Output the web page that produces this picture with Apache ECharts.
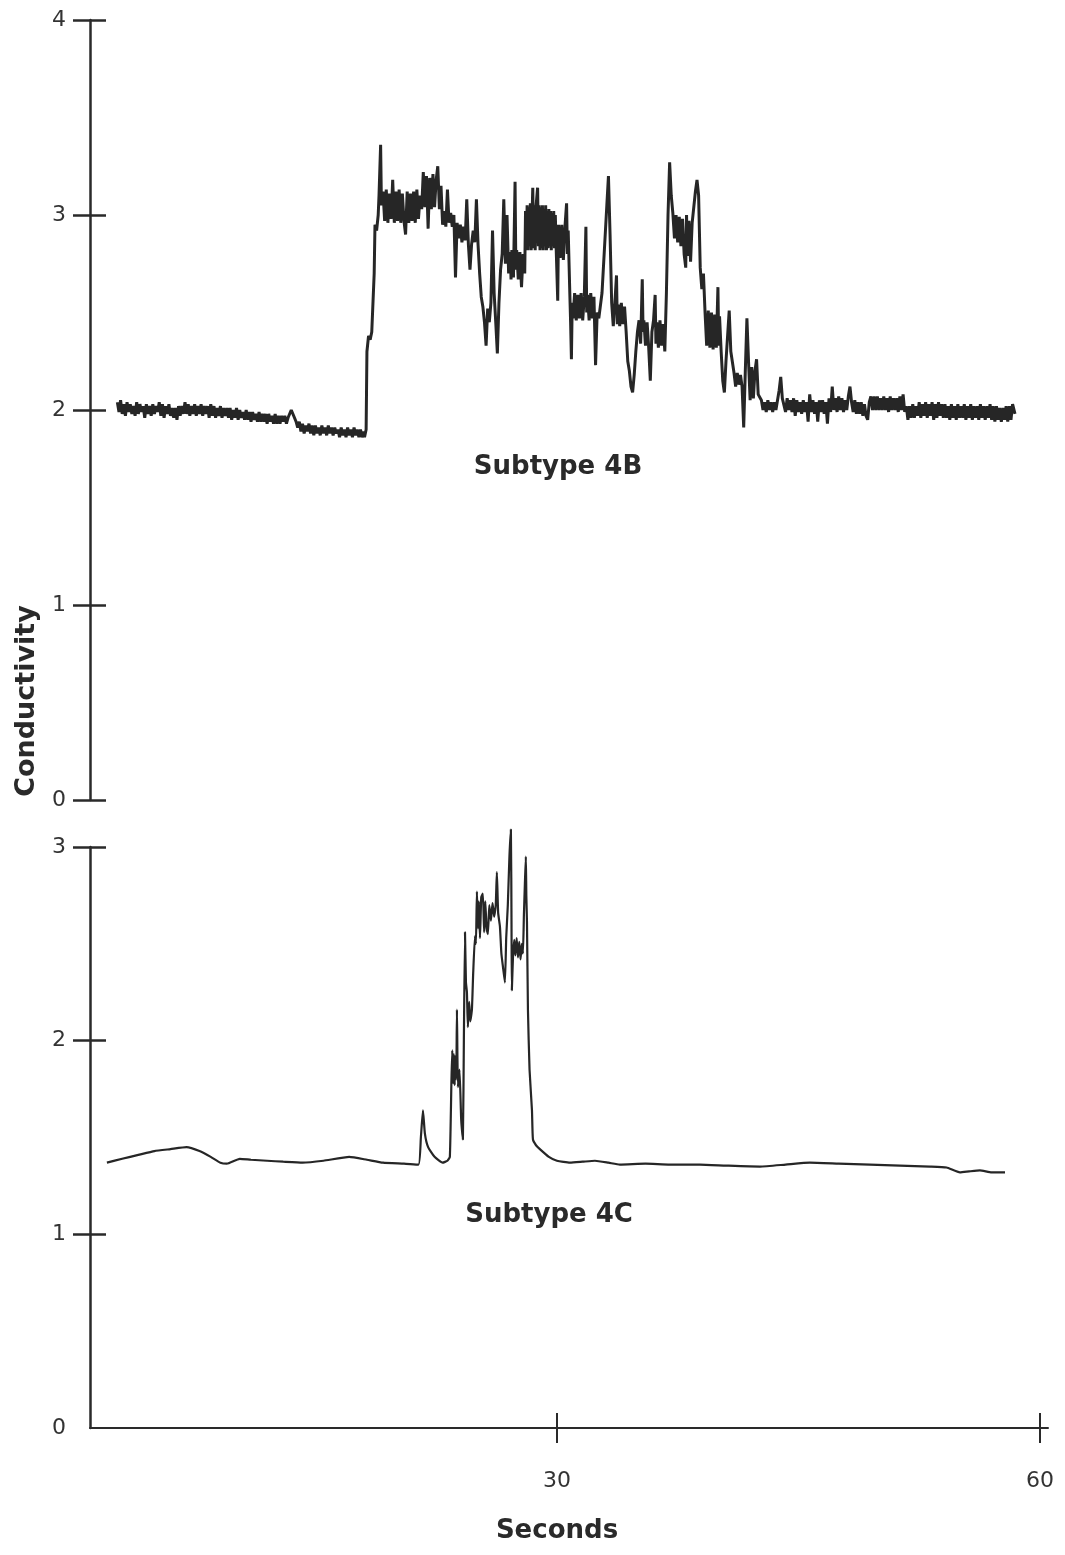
<!DOCTYPE html>
<html>
<head>
<meta charset="utf-8">
<script src="https://cdn.jsdelivr.net/npm/echarts@6/dist/echarts.min.js"></script>
<style>
html,body{margin:0;padding:0;background:#fff;}
#chart{width:1065px;height:1555px;}
</style>
</head>
<body>
<div id="chart"></div>
<script>
// ---- Data (seconds, conductivity) ----
const trace4B = [
[2.7,2.04],[2.8,1.99],[2.9,2.05],[3.0,1.98],[3.1,2.03],[3.2,1.97],[3.3,2.04],[3.4,1.99],[3.5,2.03],[3.6,1.98],
[3.7,2.02],[3.8,1.97],[3.9,2.04],[4.0,1.98],[4.1,2.03],[4.2,1.99],[4.3,2.02],[4.4,1.96],[4.5,2.03],[4.6,1.98],
[4.7,2.02],[4.8,1.97],[4.9,2.03],[5.0,1.98],[5.1,2.02],[5.2,1.99],[5.3,2.04],[5.4,1.97],[5.5,2.03],[5.6,1.96],
[5.7,2.02],[5.8,1.98],[5.9,2.03],[6.0,1.97],[6.1,2.01],[6.2,1.96],[6.3,2.01],[6.4,1.95],[6.5,2.02],[6.6,1.97],
[6.7,2.02],[6.8,1.98],[6.9,2.04],[7.0,1.98],[7.1,2.03],[7.2,1.97],[7.3,2.02],[7.4,1.98],[7.5,2.03],[7.6,1.97],
[7.7,2.02],[7.8,1.98],[7.9,2.03],[8.0,1.97],[8.1,2.02],[8.2,1.98],[8.3,2.02],[8.4,1.96],[8.5,2.03],[8.6,1.97],
[8.7,2.02],[8.8,1.96],[8.9,2.01],[9.0,1.97],[9.1,2.02],[9.2,1.96],[9.3,2.01],[9.4,1.97],[9.5,2.01],[9.6,1.96],
[9.7,2.01],[9.8,1.95],[9.9,2.00],[10.0,1.96],[10.1,2.01],[10.2,1.95],[10.3,2.00],[10.4,1.96],[10.5,1.99],[10.6,1.95],
[10.7,2.00],[10.8,1.95],[10.9,1.99],[11.0,1.94],[11.1,1.99],[11.2,1.95],[11.3,1.98],[11.4,1.94],[11.5,1.99],[11.6,1.94],
[11.7,1.98],[11.8,1.94],[11.9,1.98],[12.0,1.93],[12.1,1.98],[12.2,1.94],[12.3,1.97],[12.4,1.93],[12.5,1.98],[12.6,1.93],
[12.7,1.97],[12.8,1.93],[12.9,1.97],[13.0,1.94],[13.1,1.97],[13.2,1.93],[13.3,1.96],
[13.4,1.95],[13.5,2.00],[13.6,1.99],[13.7,1.96],[13.8,1.94],[13.9,1.91],[14.0,1.94],
[14.1,1.89],[14.2,1.93],[14.3,1.88],[14.4,1.92],[14.5,1.89],[14.6,1.93],[14.7,1.88],[14.8,1.92],[14.9,1.87],[15.0,1.92],
[15.1,1.88],[15.2,1.91],[15.3,1.87],[15.4,1.92],[15.5,1.88],[15.6,1.91],[15.7,1.87],[15.8,1.92],[15.9,1.88],[16.0,1.91],
[16.1,1.87],[16.2,1.91],[16.3,1.88],[16.4,1.90],[16.5,1.86],[16.6,1.91],[16.7,1.87],[16.8,1.90],[16.9,1.86],[17.0,1.91],
[17.1,1.87],[17.2,1.90],[17.3,1.86],[17.4,1.91],[17.5,1.87],[17.6,1.90],[17.7,1.86],[17.8,1.90],[17.9,1.86],[18.0,1.89],[18.05,1.86],
[18.15,1.90],[18.2,2.30],[18.3,2.38],[18.4,2.36],[18.5,2.40],[18.6,2.39],[18.65,2.70],[18.7,2.95],[18.8,2.92],[18.9,3.00],
[18.95,3.10],[19.05,3.36],[19.1,3.05],
[19.2,3.12],[19.3,2.97],[19.4,3.13],[19.5,2.96],[19.6,3.11],[19.7,2.98],[19.8,3.18],[19.9,2.96],[20.0,3.12],[20.1,2.97],
[20.2,3.13],[20.3,2.96],[20.4,3.11],[20.5,2.97],[20.6,2.90],[20.7,3.12],[20.8,2.96],[20.9,3.11],[21.0,2.97],[21.1,3.12],
[21.2,2.96],[21.3,3.13],[21.4,2.98],[21.5,3.10],
[21.6,3.03],[21.7,3.22],[21.8,3.04],[21.9,3.20],[22.0,2.93],[22.1,3.19],[22.2,3.03],[22.3,3.21],[22.4,3.04],[22.5,3.18],
[22.6,3.25],[22.7,3.03],[22.8,3.15],
[22.9,2.95],[23.0,3.02],[23.1,2.94],[23.2,3.13],[23.3,2.96],[23.4,3.01],[23.5,2.94],[23.6,3.00],[23.7,2.68],[23.8,2.96],
[23.9,2.88],[24.0,2.95],[24.1,2.86],[24.2,2.94],[24.3,2.87],[24.4,3.08],[24.5,2.85],[24.6,2.72],[24.7,2.85],[24.8,2.92],
[24.9,2.86],[25.0,3.08],[25.1,2.85],[25.2,2.70],[25.3,2.58],[25.4,2.53],[25.5,2.45],[25.6,2.33],[25.7,2.52],[25.8,2.45],
[25.9,2.55],[26.0,2.92],[26.1,2.60],[26.2,2.45],[26.3,2.29],[26.4,2.55],[26.5,2.72],[26.6,2.80],[26.7,3.08],[26.8,2.75],
[26.9,3.00],
[27.0,2.70],[27.1,2.81],[27.15,2.67],[27.2,2.82],[27.3,2.68],[27.4,3.17],[27.45,2.72],[27.5,2.82],[27.6,2.67],[27.7,2.81],
[27.8,2.63],[27.9,2.80],[28.0,2.70],
[28.05,3.02],[28.1,2.83],[28.15,3.05],[28.2,2.82],[28.25,3.04],[28.3,2.84],[28.35,3.06],[28.4,2.82],[28.5,3.14],[28.55,2.83],
[28.6,3.05],[28.65,2.82],[28.7,3.04],[28.8,3.14],[28.85,2.84],[28.9,3.05],[28.95,2.82],[29.0,3.04],[29.05,2.83],[29.1,3.05],
[29.15,2.82],[29.2,3.03],[29.25,2.84],[29.3,3.05],[29.35,2.82],[29.4,3.02],[29.45,2.83],[29.5,3.03],[29.55,2.84],[29.6,3.02],
[29.65,2.82],[29.7,3.01],[29.75,2.84],[29.8,3.02],[29.85,2.83],[29.9,3.00],[29.95,2.84],
[30.05,2.56],[30.1,2.95],[30.2,2.78],[30.3,2.95],[30.4,2.77],[30.5,2.94],[30.6,3.06],[30.65,2.80],[30.7,2.92],[30.8,2.60],
[30.85,2.45],[30.9,2.26],[30.95,2.55],[31.0,2.47],[31.1,2.60],[31.2,2.46],[31.3,2.59],[31.4,2.47],[31.5,2.60],[31.6,2.46],
[31.7,2.58],[31.8,2.94],[31.85,2.50],[31.9,2.59],[32.0,2.46],[32.1,2.60],[32.2,2.47],[32.3,2.58],[32.4,2.23],[32.5,2.50],
[32.6,2.47],[32.8,2.60],[33.0,2.90],[33.1,3.05],[33.2,3.20],[33.3,2.90],
[33.4,2.55],[33.5,2.43],[33.6,2.55],[33.7,2.69],[33.75,2.44],[33.8,2.54],[33.9,2.43],[34.0,2.55],[34.1,2.44],[34.2,2.53],
[34.3,2.40],[34.4,2.25],[34.5,2.20],[34.6,2.12],[34.7,2.09],[34.8,2.18],[34.9,2.30],[35.0,2.40],
[35.1,2.46],[35.2,2.34],[35.3,2.67],[35.35,2.40],[35.4,2.46],[35.5,2.33],[35.6,2.45],[35.7,2.32],[35.8,2.15],[35.9,2.40],
[36.0,2.46],[36.1,2.59],[36.15,2.34],[36.2,2.45],[36.3,2.32],[36.4,2.46],[36.5,2.33],[36.6,2.44],[36.7,2.30],
[36.8,2.60],[36.9,3.00],[37.0,3.27],[37.1,3.10],
[37.2,3.01],[37.3,2.88],[37.4,3.00],[37.5,2.86],[37.6,2.99],[37.7,2.84],[37.8,2.98],[37.9,2.80],[38.0,2.73],[38.05,3.00],
[38.1,2.79],[38.2,2.97],[38.3,2.76],[38.4,2.96],
[38.6,3.12],[38.7,3.18],[38.8,3.10],[38.9,2.73],[39.0,2.62],[39.1,2.70],
[39.2,2.50],[39.3,2.33],[39.4,2.51],[39.5,2.32],[39.6,2.50],[39.7,2.31],[39.8,2.49],[39.9,2.32],[40.0,2.63],[40.05,2.33],
[40.1,2.48],[40.2,2.30],[40.3,2.15],[40.4,2.09],[40.5,2.25],[40.7,2.51],[40.8,2.30],
[41.0,2.19],[41.1,2.12],[41.2,2.19],[41.3,2.13],[41.4,2.18],[41.5,2.12],[41.6,1.91],[41.7,2.20],[41.8,2.47],[41.9,2.25],
[42.0,2.05],[42.1,2.22],[42.2,2.06],[42.3,2.20],[42.4,2.26],[42.5,2.08],
[42.7,2.05],[42.8,2.00],[42.9,2.04],[43.0,1.99],[43.1,2.05],[43.2,2.00],[43.3,2.04],[43.4,1.99],[43.5,2.04],[43.6,2.00],
[43.7,2.05],[43.8,2.10],[43.9,2.17],[44.0,2.06],
[44.1,2.05],[44.2,1.99],[44.3,2.06],[44.4,2.00],[44.5,2.05],[44.6,1.99],[44.7,2.06],[44.8,1.97],[44.9,2.05],[45.0,1.99],
[45.1,2.04],[45.2,1.98],[45.3,2.05],[45.4,1.99],[45.5,2.04],[45.6,1.94],[45.7,2.08],[45.8,1.99],[45.9,2.05],[46.0,1.98],
[46.1,2.04],[46.2,1.94],[46.3,2.05],[46.4,1.99],[46.5,2.05],[46.6,1.98],[46.7,2.04],[46.8,1.93],[46.9,2.06],[47.0,1.99],
[47.1,2.12],[47.2,2.00],[47.3,2.06],[47.4,1.99],[47.5,2.07],[47.6,2.00],[47.7,2.06],[47.8,1.99],[47.9,2.05],[48.0,2.00],
[48.1,2.07],[48.2,2.12],[48.3,2.04],[48.4,1.99],[48.5,2.05],[48.6,1.98],[48.7,2.04],[48.8,1.98],[48.9,2.04],[49.0,1.97],
[49.1,2.03],[49.2,1.97],[49.3,1.95],[49.4,2.04],[49.5,2.07],[49.6,2.00],[49.7,2.07],[49.8,2.00],[49.9,2.07],[50.0,2.00],
[50.1,2.06],[50.2,2.00],[50.3,2.07],[50.4,2.00],[50.5,2.06],[50.6,1.99],[50.7,2.07],[50.8,2.00],[50.9,2.06],[51.0,2.00],
[51.1,2.06],[51.2,1.99],[51.3,2.07],[51.4,2.00],[51.5,2.08],[51.6,1.99],[51.7,2.02],[51.8,1.95],[51.9,2.02],[52.0,1.96],
[52.1,2.03],[52.2,1.96],[52.3,2.02],[52.4,1.97],[52.5,2.04],[52.6,1.96],[52.7,2.03],[52.8,1.97],[52.9,2.04],[53.0,1.96],
[53.1,2.03],[53.2,1.97],[53.3,2.04],[53.4,1.95],[53.5,2.03],[53.6,1.96],[53.7,2.04],[53.8,1.97],[53.9,2.03],[54.0,1.96],
[54.1,2.03],[54.2,1.96],[54.3,2.02],[54.4,1.95],[54.5,2.03],[54.6,1.96],[54.7,2.02],[54.8,1.95],[54.9,2.03],[55.0,1.96],
[55.1,2.02],[55.2,1.96],[55.3,2.03],[55.4,1.95],[55.5,2.02],[55.6,1.96],[55.7,2.03],[55.8,1.95],[55.9,2.02],[56.0,1.96],
[56.1,2.02],[56.2,1.95],[56.3,2.03],[56.4,1.96],[56.5,2.02],[56.6,1.95],[56.7,2.02],[56.8,1.96],[56.9,2.03],[57.0,1.95],
[57.1,2.02],[57.2,1.94],[57.3,2.02],[57.4,1.95],[57.5,2.01],[57.6,1.94],[57.7,2.01],[57.8,1.95],[57.9,2.02],[58.0,1.94],
[58.1,2.02],[58.2,1.95],[58.3,2.03],[58.45,1.98]
];

const trace4C = [
[2.05,1.37],[3.0,1.39],[4.0,1.41],[5.0,1.43],[6.0,1.44],[7.0,1.45],[7.8,1.43],[8.5,1.40],[9.1,1.37],[9.5,1.365],
[10.3,1.39],[11.0,1.385],[12.0,1.38],[13.0,1.375],[14.2,1.37],[15.5,1.38],[17.1,1.40],[18.2,1.385],[19.2,1.37],[20.5,1.365],
[21.4,1.36],[21.55,1.50],[21.68,1.64],[21.8,1.52],[22.0,1.45],[22.4,1.40],[22.9,1.37],[23.2,1.38],[23.35,1.40],[23.45,1.80],
[23.5,1.95],[23.55,1.78],[23.6,1.93],[23.65,1.77],[23.7,1.92],[23.75,1.80],[23.79,2.16],[23.85,1.76],[23.95,1.85],[24.05,1.60],
[24.1,1.54],[24.16,1.49],[24.22,2.00],[24.29,2.56],[24.35,2.30],[24.41,2.25],[24.47,2.07],[24.55,2.20],[24.62,2.10],[24.72,2.16],
[24.8,2.35],[24.91,2.54],[24.97,2.50],[25.03,2.77],[25.1,2.58],[25.15,2.72],[25.22,2.53],[25.3,2.74],[25.4,2.76],[25.48,2.56],
[25.55,2.72],[25.63,2.58],[25.71,2.55],[25.8,2.70],[25.9,2.62],[26.0,2.71],[26.1,2.64],[26.2,2.70],[26.27,2.87],[26.35,2.66],
[26.46,2.59],[26.55,2.45],[26.65,2.38],[26.77,2.30],[26.85,2.53],[26.95,2.70],[27.05,2.95],[27.14,3.09],[27.18,2.60],[27.2,2.26],
[27.27,2.43],[27.35,2.52],[27.42,2.44],[27.5,2.53],[27.58,2.43],[27.66,2.51],[27.74,2.42],[27.82,2.50],[27.89,2.45],[27.95,2.65],
[28.01,2.81],[28.07,2.95],[28.1,2.75],[28.14,2.61],[28.2,2.16],[28.3,1.85],[28.45,1.64],[28.51,1.49],[28.7,1.46],[28.94,1.44],
[29.5,1.40],[30.0,1.38],[30.81,1.37],[31.6,1.375],[32.36,1.38],[33.2,1.37],[33.91,1.36],[35.5,1.365],[37.0,1.36],[38.88,1.36],
[40.5,1.355],[42.61,1.35],[44.2,1.36],[45.71,1.37],[47.5,1.365],[49.44,1.36],[51.3,1.355],[53.17,1.35],[54.2,1.345],[55.03,1.32],
[55.6,1.325],[56.27,1.33],[57.0,1.32],[57.83,1.32]
];

const xTickValues = [30, 60];
const yTopTicks = [0, 1, 2, 3, 4];
const yBottomTicks = [1, 2, 3];
const yBottomLabels = [0, 1, 2, 3];
const labels = { top: 'Subtype 4B', bottom: 'Subtype 4C', yName: 'Conductivity', xName: 'Seconds' };

// ---- Chart ----
const INK = '#2a2a2a';
const tickFont = { color: '#333', fontFamily: 'DejaVu Sans', fontSize: 22 };
const titleFont = 'bold 26px "DejaVu Sans"';
const chart = echarts.init(document.getElementById('chart'), null, { renderer: 'canvas' });

function yAx(grid, max, inside, tickVals, labelVals) {
  return {
    type: 'value', gridIndex: grid, min: 0, max: max, interval: 1, position: 'left',
    axisLine: { show: !inside, lineStyle: { color: INK, width: 2.5 } },
    axisTick: { show: true, inside: inside, length: inside ? 16 : 17, customValues: tickVals,
                lineStyle: { color: INK, width: 2.5 } },
    axisLabel: { show: !inside, margin: 24, customValues: labelVals, ...tickFont },
    splitLine: { show: false }
  };
}
function xAx(grid, inside, visible) {
  return {
    type: 'value', gridIndex: grid, min: 1, max: 60.5, show: visible, position: 'bottom',
    axisLine: { show: !inside, onZero: false, lineStyle: { color: INK, width: 2 } },
    axisTick: { show: true, inside: inside, length: 15, customValues: xTickValues,
                lineStyle: { color: INK, width: 2 } },
    axisLabel: { show: !inside, margin: 42, customValues: xTickValues, ...tickFont },
    splitLine: { show: false }
  };
}

chart.setOption({
  animation: false,
  backgroundColor: '#fff',
  grid: [
    { left: 90, top: 20, width: 958, height: 780 },
    { left: 90, top: 847, width: 958, height: 581 }
  ],
  xAxis: [ xAx(0, false, false), xAx(1, false, true), xAx(1, true, true) ],
  yAxis: [
    yAx(0, 4, false, yTopTicks, yTopTicks), yAx(0, 4, true, yTopTicks, yTopTicks),
    yAx(1, 3, false, yBottomTicks, yBottomLabels), yAx(1, 3, true, yBottomTicks, yBottomLabels)
  ],
  series: [
    { type: 'line', xAxisIndex: 0, yAxisIndex: 0, data: trace4B, showSymbol: false, symbol: 'none',
      lineStyle: { color: '#262626', width: 3 } },
    { type: 'line', xAxisIndex: 1, yAxisIndex: 2, data: trace4C, showSymbol: false, symbol: 'none', smooth: 0.15,
      clip: false, lineStyle: { color: '#262626', width: 2.2 } }
  ],
  graphic: [
    { type: 'text', x: 27, y: 701, rotation: Math.PI / 2,
      style: { text: labels.yName, fill: INK, font: 'bold 27px "DejaVu Sans"', align: 'center', verticalAlign: 'middle' } },
    { type: 'text', x: 558, y: 467,
      style: { text: labels.top, fill: INK, font: titleFont, align: 'center', verticalAlign: 'middle' } },
    { type: 'text', x: 549, y: 1215,
      style: { text: labels.bottom, fill: INK, font: titleFont, align: 'center', verticalAlign: 'middle' } },
    { type: 'text', x: 557, y: 1531,
      style: { text: labels.xName, fill: INK, font: titleFont, align: 'center', verticalAlign: 'middle' } }
  ]
});
</script>
</body>
</html>
